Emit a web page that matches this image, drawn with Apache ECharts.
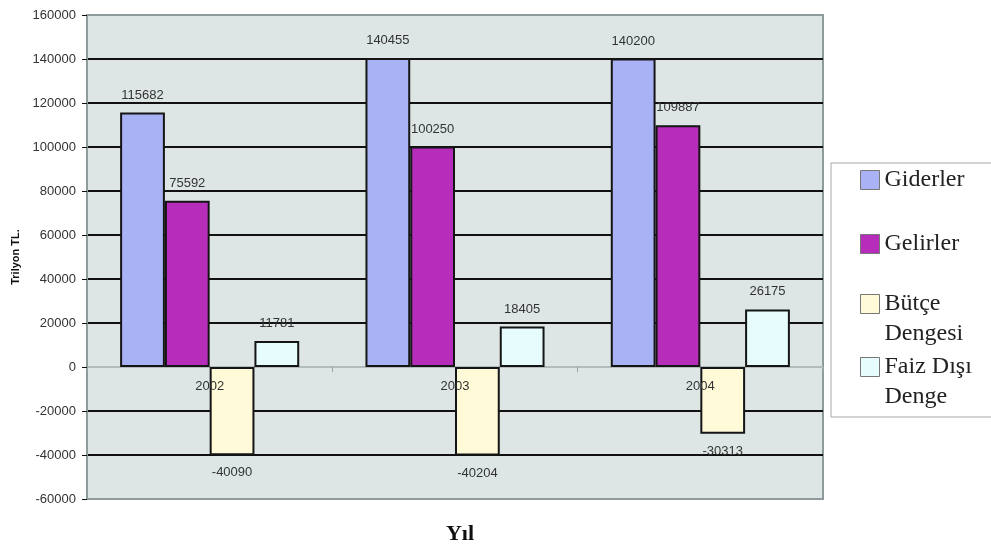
<!DOCTYPE html>
<html>
<head>
<meta charset="utf-8">
<script src="https://cdn.jsdelivr.net/npm/echarts@6/dist/echarts.min.js"></script>
<style>
  html, body { margin: 0; padding: 0; background: #fff; }
  #chart { width: 991px; height: 548px; }
</style>
</head>
<body>
<div id="chart"></div>
<script>
// Budget figures per year (Trilyon TL.)
const years = ['2002', '2003', '2004'];
const giderler = [115682, 140455, 140200];
const gelirler = [75592, 100250, 109887];
const butceDengesi = [-40090, -40204, -30313];
const faizDisiDenge = [11781, 18405, 26175];

const seriesNames = ['Giderler', 'Gelirler', 'Bütçe Dengesi', 'Faiz Dışı Denge'];
// a leading blank line keeps the icon level with the first line of two-line entries
const legendLabels = ['Giderler', 'Gelirler', '\nBütçe\nDengesi', '\nFaiz Dışı\nDenge'];
const seriesColors = ['#aab2f6', '#b52db8', '#fffad8', '#e7fcfc'];

const chart = echarts.init(document.getElementById('chart'));

// Value labels sit above positive bars and below negative ones
function withLabels(values) {
  return values.map(v => ({
    value: v,
    label: { position: v < 0 ? 'bottom' : 'top' }
  }));
}

const seriesData = [giderler, gelirler, butceDengesi, faizDisiDenge];

const series = seriesNames.map((name, i) => ({
  name: name,
  type: 'bar',
  barGap: '0%',
  barCategoryGap: '27%',
  data: withLabels(seriesData[i]),
  itemStyle: { color: seriesColors[i], borderColor: '#151515', borderWidth: 2 },
  label: {
    show: true,
    distance: 11,
    color: '#333',
    fontFamily: 'Liberation Sans, Arial, sans-serif',
    fontSize: 13
  }
}));

// Year labels hang just under the zero line, on a layer above the bars
series.push({
  name: 'years',
  type: 'scatter',
  symbol: 'circle',
  symbolSize: 1,
  itemStyle: { color: 'rgba(0,0,0,0)' },
  silent: true,
  zlevel: 1,
  z: 20,
  data: years.map(y => [y, 0]),
  label: {
    show: true,
    position: 'bottom',
    distance: 12,
    formatter: p => p.value[0],
    color: '#333',
    opacity: 1,
    fontFamily: 'Liberation Sans, Arial, sans-serif',
    fontSize: 13
  }
});

// One legend per entry so each can be placed individually inside the box
const legendTops = [165, 229, 259, 322];
const legends = seriesNames.map((name, i) => ({
  data: [name],
  left: 860,
  top: legendTops[i],
  padding: 0,
  orient: 'vertical',
  itemWidth: 19,
  itemHeight: 19,
  icon: 'rect',
  itemStyle: { borderColor: '#777', borderWidth: 1 },
  formatter: () => legendLabels[i],
  selectedMode: false,
  textStyle: {
    fontFamily: 'Liberation Serif, Times New Roman, serif',
    fontSize: 24,
    lineHeight: 30,
    color: '#222'
  },
  z: 10
}));

// Gridline colours, one per tick from -60000 up to 160000
const splitColors = ['#8d9b9b', '#111', '#111', '#b3bcbc', '#111', '#111', '#111', '#111', '#111', '#111', '#111', '#8d9b9b'];

chart.setOption({
  animation: false,
  backgroundColor: '#fff',
  title: {
    text: 'Yıl',
    left: 455,
    top: 518,
    textAlign: 'center',
    textStyle: {
      fontFamily: 'Liberation Serif, Times New Roman, serif',
      fontWeight: 'bold',
      fontSize: 22,
      color: '#111'
    }
  },
  graphic: [{
    type: 'rect',
    shape: { x: 831, y: 163, width: 175, height: 254 },
    style: { fill: '#fff', stroke: '#a8a8a8', lineWidth: 1 },
    z: 1
  }],
  legend: legends,
  grid: {
    left: 87,
    right: 168,
    top: 15,
    bottom: 49,
    show: true,
    backgroundColor: '#dde6e5',
    borderColor: '#8d9b9b',
    borderWidth: 2
  },
  xAxis: {
    type: 'category',
    data: years,
    position: 'bottom',
    axisLine: { show: false, onZero: true },
    axisTick: { show: true, length: 5, lineStyle: { color: '#9aa3a3' } },
    axisLabel: { show: false }
  },
  yAxis: {
    type: 'value',
    min: -60000,
    max: 160000,
    interval: 20000,
    name: 'Trilyon TL.',
    nameLocation: 'middle',
    nameGap: 58,
    nameRotate: 90,
    nameTextStyle: {
      fontFamily: 'Liberation Sans, Arial, sans-serif',
      fontWeight: 'bold',
      fontSize: 11,
      color: '#111'
    },
    axisLine: { show: true, lineStyle: { color: '#8d9b9b', width: 2 } },
    axisTick: { show: true, length: 5, lineStyle: { color: '#111' } },
    axisLabel: {
      margin: 11,
      color: '#333',
      fontFamily: 'Liberation Sans, Arial, sans-serif',
      fontSize: 13,
      formatter: v => String(v)
    },
    splitLine: { show: true, lineStyle: { color: splitColors, width: 2 } }
  },
  series: series
});
</script>
</body>
</html>
